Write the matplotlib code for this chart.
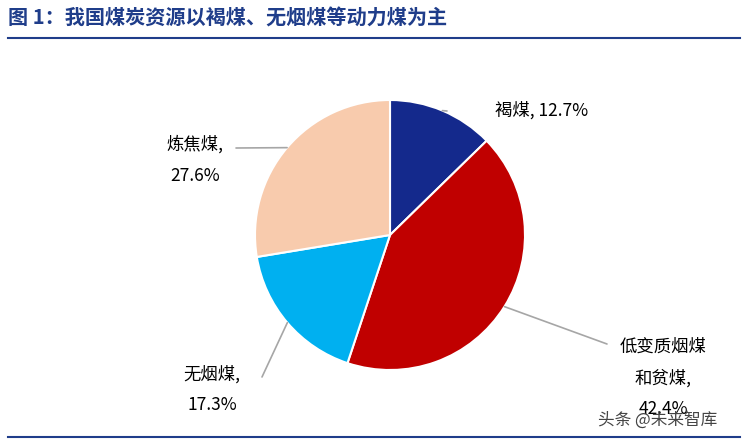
import matplotlib
matplotlib.use("Agg")
import matplotlib.pyplot as plt
import numpy as np

plt.rcParams['font.family'] = ['Noto Sans CJK SC', 'DejaVu Sans']

categories = ['褐煤', '低变质烟煤和贫煤', '无烟煤', '炼焦煤']
values = [12.7, 42.4, 17.3, 27.6]
label_texts = ['褐煤, 12.7%', '低变质烟煤\n和贫煤,\n42.4%', '无烟煤,\n17.3%', '炼焦煤,\n27.6%']
colors = ['#14298C', '#C00000', '#00B0F0', '#F8CBAD']

W, H = 745, 445
fig = plt.figure(figsize=(W/100, H/100), dpi=100)

cx, cy, R = 390, 235, 135
ax = fig.add_axes([(cx-R)/W, (H-cy-R)/H, 2*R/W, 2*R/H])
wedges, _ = ax.pie(values, colors=colors, startangle=90, counterclock=False,
                   wedgeprops=dict(edgecolor='white', linewidth=1.5))
ax.set_xlim(-1, 1); ax.set_ylim(-1, 1)
ax.set_aspect('equal')

def px(x, y):
    return ((x-cx)/R, (cy-y)/R)

text_pos = [(495, 110, 'left', 'center'), (663, 378, 'center', 'center'),
            (212, 390, 'center', 'center'), (195, 160, 'center', 'center')]
line_end = [(447, 111), (607, 344), (262, 377), (236, 148)]
for w, t, tp, le in zip(wedges, label_texts, text_pos, line_end):
    ang = np.deg2rad((w.theta1 + w.theta2) / 2)
    xy = (np.cos(ang), np.sin(ang))
    ax.annotate('', xy=xy, xytext=px(*le), annotation_clip=False,
                arrowprops=dict(arrowstyle='-', color='#A6A6A6', lw=1.2,
                                shrinkA=0, shrinkB=0))
    ax.text(*px(tp[0], tp[1]), t, ha=tp[2], va=tp[3], fontsize=12.5,
            linespacing=1.9, clip_on=False, color='black')

fig.text(8/W, 1-18/H, '图 1：我国煤炭资源以褐煤、无烟煤等动力煤为主', fontsize=14.5,
         fontweight='bold', color='#1F3D8A', va='center', ha='left')
fig.add_artist(plt.Line2D([8/W, 740/W], [1-38/H, 1-38/H], color='#1F3D8A', lw=1.5))
fig.add_artist(plt.Line2D([8/W, 740/W], [1-437/H, 1-437/H], color='#1F3D8A', lw=1.5))
fig.text(598/W, 1-420/H, '头条 @未来智库', fontsize=12, color='#444444', va='center')

fig.savefig('out.png', dpi=100)
